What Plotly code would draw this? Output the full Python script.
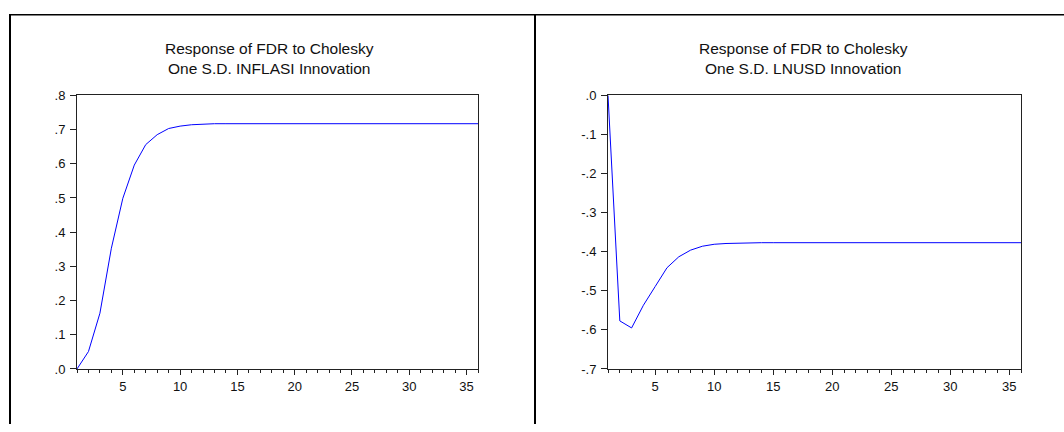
import plotly.graph_objects as go

periods = list(range(1, 37))
resp_inflasi = [0.0, 0.051, 0.163, 0.353, 0.499, 0.596, 0.656, 0.685, 0.703, 0.710,
                0.714, 0.716, 0.717, 0.717, 0.717, 0.717, 0.717, 0.717, 0.717, 0.717,
                0.717, 0.717, 0.717, 0.717, 0.717, 0.717, 0.717, 0.717, 0.717, 0.717,
                0.717, 0.717, 0.717, 0.717, 0.717, 0.717]
resp_lnusd = [0.0, -0.577, -0.595, -0.537, -0.489, -0.441, -0.413, -0.396, -0.386, -0.381,
              -0.379, -0.378, -0.377, -0.377, -0.377, -0.377, -0.377, -0.377, -0.377, -0.377,
              -0.377, -0.377, -0.377, -0.377, -0.377, -0.377, -0.377, -0.377, -0.377, -0.377,
              -0.377, -0.377, -0.377, -0.377, -0.377, -0.377]
x_ticks = [5, 10, 15, 20, 25, 30, 35]
y1_vals = [0.0, 0.1, 0.2, 0.3, 0.4, 0.5, 0.6, 0.7, 0.8]
y1_text = [".0", ".1", ".2", ".3", ".4", ".5", ".6", ".7", ".8"]
y2_vals = [-0.7, -0.6, -0.5, -0.4, -0.3, -0.2, -0.1, 0.0]
y2_text = ["-.7", "-.6", "-.5", "-.4", "-.3", "-.2", "-.1", ".0"]
titles = ["Response of FDR to Cholesky<br>One S.D. INFLASI Innovation",
          "Response of FDR to Cholesky<br>One S.D. LNUSD Innovation"]

W, H = 1064, 432
FONT = "Liberation Sans, Arial, sans-serif"

def px(x):
    return x / W

def py(y):
    return 1 - y / H

fig = go.Figure()
fig.add_trace(go.Scatter(x=periods, y=resp_inflasi, mode="lines",
                         line=dict(color="#0000ff", width=1), xaxis="x", yaxis="y",
                         showlegend=False))
fig.add_trace(go.Scatter(x=periods, y=resp_lnusd, mode="lines",
                         line=dict(color="#0000ff", width=1), xaxis="x2", yaxis="y2",
                         showlegend=False))

common_x = dict(range=[1, 36], tickvals=x_ticks, ticks="outside", ticklen=5, tickwidth=1,
                tickcolor="#222", showline=True, linecolor="#222", linewidth=1, mirror=True,
                showgrid=False, zeroline=False, ticklabelstandoff=0,
                minor=dict(dtick=1, tick0=0, ticks="outside", ticklen=3, tickcolor="#222",
                           showgrid=False),
                tickfont=dict(family=FONT, size=13, color="#111"))
common_y = dict(ticks="outside", ticklen=6, tickwidth=1, tickcolor="#222",
                showline=True, linecolor="#222", linewidth=1, mirror=True,
                showgrid=False, zeroline=False, ticklabelstandoff=2,
                tickfont=dict(family=FONT, size=13, color="#111"))

fig.update_layout(
    width=W, height=H, margin=dict(l=0, r=0, t=0, b=0),
    paper_bgcolor="white", plot_bgcolor="white",
    xaxis=dict(domain=[px(77), px(478)], anchor="y", **common_x),
    yaxis=dict(domain=[py(375), py(91.5)], anchor="x", range=[0, 0.8],
               tickvals=y1_vals, ticktext=y1_text, **common_y),
    xaxis2=dict(domain=[px(608), px(1021)], anchor="y2", **common_x),
    yaxis2=dict(domain=[py(375), py(91.5)], anchor="x2", range=[-0.7, 0.0],
                tickvals=y2_vals, ticktext=y2_text, **common_y),
)

for cx, t in [(269, titles[0]), (803, titles[1])]:
    fig.add_annotation(x=px(cx), y=py(53.5), xref="paper", yref="paper", text=t,
                       showarrow=False, xanchor="center", yanchor="middle",
                       font=dict(family=FONT, size=15.5, color="#111"), align="center")

# outer frame lines
frame = dict(color="black", width=2)
fig.add_shape(type="line", xref="paper", yref="paper", x0=px(9), x1=px(1064),
              y0=py(8), y1=py(8), line=dict(color="black", width=1.5))
fig.add_shape(type="line", xref="paper", yref="paper", x0=px(10), x1=px(10),
              y0=py(8), y1=0, line=frame)
fig.add_shape(type="line", xref="paper", yref="paper", x0=px(535), x1=px(535),
              y0=py(8), y1=0, line=frame)

post = ("document.documentElement.style.margin='0';"
        "document.documentElement.style.overflow='hidden';"
        "document.body.style.margin='0';document.body.style.overflow='hidden';"
        "var g=document.getElementById('{plot_id}');"
        "g.style.position='fixed';g.style.top='0px';g.style.left='0px';")
fig.write_html("out.html", config={"displayModeBar": False}, post_script=post)
